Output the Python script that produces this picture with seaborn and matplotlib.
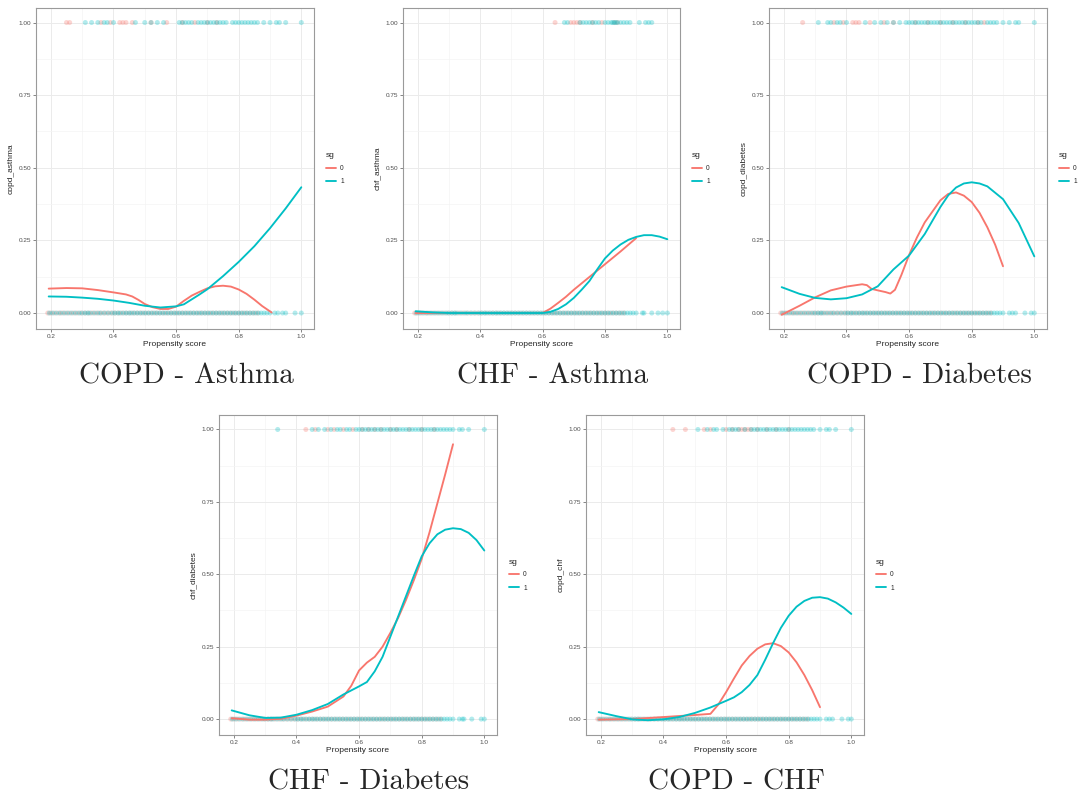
import matplotlib
matplotlib.use("Agg")
import matplotlib.pyplot as plt
import seaborn as sns
import pandas as pd

sns.set_style("white")
plt.rcParams['font.family'] = ['Liberation Sans', 'DejaVu Sans']

pal = {'0': '#F8766D', '1': '#00BFC4'}

# --- points at outcome = 0 (shared dense core + per-panel tails) ---
zero_sg0 = [0.19, 0.20, 0.212, 0.225, 0.236, 0.248, 0.26, 0.272, 0.284, 0.296, 0.308, 0.32,
            0.332, 0.344, 0.356, 0.368, 0.38, 0.392, 0.404, 0.416, 0.428, 0.44, 0.452, 0.464,
            0.476, 0.488, 0.50, 0.512, 0.524, 0.536, 0.548, 0.56, 0.572, 0.584, 0.596, 0.608,
            0.62, 0.632, 0.644, 0.656, 0.668, 0.68, 0.692, 0.704, 0.716, 0.728, 0.74, 0.752,
            0.764, 0.776, 0.788, 0.80, 0.812, 0.824, 0.836, 0.848, 0.86]
zero_sg1 = [0.195, 0.206, 0.218, 0.23, 0.242, 0.254, 0.266, 0.278, 0.29, 0.30, 0.31, 0.318,
            0.326, 0.338, 0.35, 0.36, 0.372, 0.384, 0.396, 0.405, 0.414, 0.422, 0.432, 0.441,
            0.45, 0.458, 0.467, 0.476, 0.485, 0.494, 0.503, 0.512, 0.521, 0.53, 0.539, 0.548,
            0.557, 0.566, 0.575, 0.584, 0.593, 0.602, 0.611, 0.62, 0.629, 0.638, 0.647, 0.656,
            0.665, 0.674, 0.683, 0.692, 0.701, 0.71, 0.719, 0.728, 0.737, 0.746, 0.755, 0.764,
            0.773, 0.782, 0.791, 0.80, 0.809, 0.818, 0.827, 0.836, 0.845, 0.854, 0.863, 0.872,
            0.881, 0.89, 0.90]

# --- COPD - Asthma ---
ca_top0 = [0.25, 0.26, 0.36, 0.39, 0.42, 0.43, 0.44, 0.46, 0.52, 0.57, 0.62, 0.66, 0.70, 0.73]
ca_top1 = [0.31, 0.33, 0.35, 0.37, 0.38, 0.40, 0.47, 0.50, 0.52, 0.54, 0.56, 0.61, 0.62, 0.63,
           0.64, 0.65, 0.67, 0.68, 0.69, 0.70, 0.71, 0.72, 0.73, 0.74, 0.75, 0.76, 0.78, 0.79,
           0.80, 0.81, 0.82, 0.83, 0.84, 0.85, 0.86, 0.88, 0.90, 0.92, 0.93, 0.95, 1.0]
ca_tail1 = [0.915, 0.925, 0.94, 0.95, 0.98, 1.0]
ca_x0 = [0.193, 0.25, 0.30, 0.35, 0.40, 0.44, 0.46, 0.48, 0.50, 0.525, 0.55, 0.575, 0.60,
         0.625, 0.65, 0.675, 0.70, 0.725, 0.75, 0.775, 0.80, 0.825, 0.85, 0.875, 0.905]
ca_y0 = [0.084, 0.086, 0.085, 0.079, 0.071, 0.064, 0.057, 0.045, 0.031, 0.020, 0.014, 0.014,
         0.022, 0.042, 0.060, 0.073, 0.085, 0.092, 0.094, 0.091, 0.081, 0.066, 0.046, 0.024, 0.002]
ca_x1 = [0.193, 0.25, 0.30, 0.35, 0.40, 0.45, 0.50, 0.55, 0.60, 0.625, 0.65, 0.675, 0.70,
         0.75, 0.80, 0.85, 0.90, 0.95, 1.0]
ca_y1 = [0.057, 0.056, 0.053, 0.049, 0.043, 0.035, 0.025, 0.019, 0.023, 0.030, 0.047, 0.064,
         0.082, 0.127, 0.176, 0.230, 0.292, 0.360, 0.433]

# --- CHF - Asthma ---
ha_top0 = [0.64, 0.69, 0.70, 0.71, 0.72, 0.76, 0.79, 0.83, 0.84]
ha_top1 = [0.67, 0.68, 0.72, 0.73, 0.74, 0.75, 0.76, 0.77, 0.78, 0.80, 0.81, 0.82, 0.825,
           0.83, 0.835, 0.84, 0.85, 0.86, 0.87, 0.88, 0.91, 0.93, 0.94, 0.95]
ha_tail1 = [0.92, 0.925, 0.95, 0.97, 0.985, 1.0]
ha_x0 = [0.193, 0.30, 0.40, 0.50, 0.60, 0.625, 0.65, 0.675, 0.70, 0.75, 0.80, 0.85, 0.90]
ha_y0 = [0.0, 0.0, 0.0, 0.0, 0.0, 0.015, 0.035, 0.056, 0.080, 0.124, 0.168, 0.212, 0.258]
ha_x1 = [0.193, 0.25, 0.30, 0.40, 0.50, 0.60, 0.625, 0.65, 0.675, 0.70, 0.725, 0.75, 0.775,
         0.80, 0.825, 0.85, 0.875, 0.90, 0.925, 0.95, 0.975, 1.0]
ha_y1 = [0.006, 0.002, 0.0, 0.0, 0.0, 0.0, 0.004, 0.014, 0.030, 0.052, 0.080, 0.110, 0.150,
         0.188, 0.215, 0.236, 0.252, 0.262, 0.268, 0.268, 0.263, 0.254]

# --- COPD - Diabetes ---
cd_top0 = [0.26, 0.36, 0.39, 0.42, 0.43, 0.44, 0.475, 0.52, 0.55, 0.62, 0.66, 0.70, 0.74,
           0.78, 0.82, 0.84]
cd_top1 = [0.31, 0.34, 0.35, 0.37, 0.38, 0.40, 0.46, 0.49, 0.51, 0.53, 0.55, 0.57, 0.59, 0.60,
           0.61, 0.62, 0.63, 0.64, 0.65, 0.66, 0.67, 0.68, 0.69, 0.70, 0.71, 0.72, 0.73, 0.74,
           0.75, 0.76, 0.77, 0.78, 0.79, 0.80, 0.81, 0.82, 0.83, 0.85, 0.86, 0.87, 0.88, 0.90,
           0.92, 0.94, 0.95, 1.0]
cd_tail1 = [0.92, 0.93, 0.94, 0.97, 0.99, 1.0]
cd_x0 = [0.193, 0.25, 0.30, 0.35, 0.40, 0.45, 0.465, 0.48, 0.50, 0.525, 0.54, 0.555, 0.575,
         0.60, 0.625, 0.65, 0.675, 0.70, 0.725, 0.75, 0.775, 0.80, 0.825, 0.85, 0.875, 0.90]
cd_y0 = [-0.006, 0.025, 0.054, 0.078, 0.091, 0.099, 0.096, 0.083, 0.078, 0.072, 0.067, 0.080,
         0.130, 0.200, 0.260, 0.312, 0.350, 0.388, 0.410, 0.415, 0.404, 0.382, 0.345, 0.295,
         0.235, 0.161]
cd_x1 = [0.193, 0.25, 0.30, 0.35, 0.40, 0.45, 0.50, 0.55, 0.60, 0.65, 0.70, 0.725, 0.75, 0.775,
         0.80, 0.825, 0.85, 0.90, 0.95, 1.0]
cd_y1 = [0.089, 0.066, 0.052, 0.047, 0.051, 0.064, 0.092, 0.150, 0.198, 0.272, 0.365, 0.405,
         0.432, 0.446, 0.450, 0.446, 0.436, 0.392, 0.310, 0.195]

# --- CHF - Diabetes ---
hd_top0 = [0.43, 0.46, 0.50, 0.52, 0.55, 0.58, 0.61, 0.63, 0.65, 0.67, 0.70, 0.72, 0.76,
           0.80, 0.84]
hd_top1 = [0.34, 0.45, 0.47, 0.49, 0.51, 0.53, 0.54, 0.56, 0.57, 0.59, 0.60, 0.61, 0.62, 0.63,
           0.64, 0.65, 0.66, 0.67, 0.68, 0.69, 0.70, 0.71, 0.72, 0.73, 0.74, 0.75, 0.76, 0.77,
           0.78, 0.79, 0.80, 0.81, 0.82, 0.83, 0.84, 0.85, 0.86, 0.87, 0.88, 0.89, 0.90, 0.92,
           0.93, 0.95, 1.0]
hd_tail1 = [0.92, 0.93, 0.935, 0.96, 0.99, 1.0]
hd_x0 = [0.193, 0.25, 0.30, 0.35, 0.40, 0.45, 0.50, 0.55, 0.575, 0.60, 0.625, 0.65, 0.675,
         0.70, 0.725, 0.75, 0.775, 0.80, 0.825, 0.85, 0.875, 0.90]
hd_y0 = [0.003, -0.002, -0.002, 0.001, 0.012, 0.026, 0.043, 0.078, 0.115, 0.168, 0.195, 0.215,
         0.250, 0.298, 0.350, 0.412, 0.480, 0.553, 0.645, 0.745, 0.845, 0.949]
hd_x1 = [0.193, 0.25, 0.30, 0.35, 0.40, 0.45, 0.50, 0.55, 0.60, 0.625, 0.65, 0.675, 0.70,
         0.725, 0.75, 0.775, 0.80, 0.825, 0.85, 0.875, 0.90, 0.925, 0.95, 0.975, 1.0]
hd_y1 = [0.030, 0.013, 0.004, 0.005, 0.015, 0.031, 0.052, 0.085, 0.113, 0.128, 0.165, 0.215,
         0.285, 0.355, 0.425, 0.495, 0.562, 0.607, 0.638, 0.654, 0.659, 0.656, 0.643, 0.618,
         0.582]

# --- COPD - CHF ---
ch_top0 = [0.43, 0.47, 0.53, 0.55, 0.60, 0.62, 0.64, 0.65, 0.66, 0.67, 0.68, 0.70, 0.73,
           0.76, 0.80]
ch_top1 = [0.51, 0.54, 0.56, 0.57, 0.59, 0.61, 0.62, 0.63, 0.64, 0.66, 0.68, 0.69, 0.70, 0.71,
           0.72, 0.73, 0.74, 0.75, 0.76, 0.77, 0.78, 0.79, 0.80, 0.81, 0.82, 0.83, 0.84, 0.85,
           0.86, 0.87, 0.88, 0.90, 0.92, 0.93, 0.95, 1.0]
ch_tail1 = [0.92, 0.93, 0.94, 0.97, 0.99, 1.0]
ch_x0 = [0.193, 0.30, 0.40, 0.50, 0.55, 0.575, 0.60, 0.625, 0.65, 0.675, 0.70, 0.725, 0.75,
         0.775, 0.80, 0.825, 0.85, 0.875, 0.90]
ch_y0 = [-0.002, 0.0, 0.007, 0.014, 0.018, 0.050, 0.093, 0.140, 0.185, 0.218, 0.243, 0.258,
         0.262, 0.252, 0.230, 0.196, 0.152, 0.100, 0.041]
ch_x1 = [0.193, 0.25, 0.30, 0.35, 0.40, 0.45, 0.50, 0.55, 0.60, 0.625, 0.65, 0.675, 0.70,
         0.725, 0.75, 0.775, 0.80, 0.825, 0.85, 0.875, 0.90, 0.925, 0.95, 0.975, 1.0]
ch_y1 = [0.024, 0.010, -0.001, -0.004, -0.001, 0.007, 0.021, 0.040, 0.063, 0.075, 0.093, 0.118,
         0.152, 0.205, 0.262, 0.315, 0.357, 0.388, 0.408, 0.419, 0.421, 0.416, 0.403, 0.385,
         0.363]

panels = [
    ("copd_asthma", "COPD - Asthma", (36, 8, 314, 329),
     ca_top0, ca_top1, ca_tail1, ca_x0, ca_y0, ca_x1, ca_y1),
    ("chf_asthma", "CHF - Asthma", (403, 8, 680, 329),
     ha_top0, ha_top1, ha_tail1, ha_x0, ha_y0, ha_x1, ha_y1),
    ("copd_diabetes", "COPD - Diabetes", (769, 8, 1047, 329),
     cd_top0, cd_top1, cd_tail1, cd_x0, cd_y0, cd_x1, cd_y1),
    ("chf_diabetes", "CHF - Diabetes", (219, 415, 497, 735),
     hd_top0, hd_top1, hd_tail1, hd_x0, hd_y0, hd_x1, hd_y1),
    ("copd_chf", "COPD - CHF", (586, 415, 864, 735),
     ch_top0, ch_top1, ch_tail1, ch_x0, ch_y0, ch_x1, ch_y1),
]

W, H = 1078, 798
fig = plt.figure(figsize=(W / 100, H / 100), dpi=100)

for ylab, caption, (x0, y0, x1, y1), top0, top1, tail1, fx0, fy0, fx1, fy1 in panels:
    ax = fig.add_axes([x0 / W, 1 - y1 / H, (x1 - x0) / W, (y1 - y0) / H])

    pts = pd.DataFrame({
        'ps': top0 + top1 + zero_sg0 + zero_sg1 + tail1,
        'outcome': [1.0] * (len(top0) + len(top1)) + [0.0] * (len(zero_sg0) + len(zero_sg1) + len(tail1)),
        'sg': ['0'] * len(top0) + ['1'] * len(top1) + ['0'] * len(zero_sg0) + ['1'] * (len(zero_sg1) + len(tail1)),
    })
    fit = pd.DataFrame({
        'ps': fx0 + fx1,
        'fit': fy0 + fy1,
        'sg': ['0'] * len(fx0) + ['1'] * len(fx1),
    })

    sns.scatterplot(data=pts, x='ps', y='outcome', hue='sg', palette=pal, alpha=0.3,
                    s=13, linewidth=0, legend=False, ax=ax, zorder=3)
    sns.lineplot(data=fit, x='ps', y='fit', hue='sg', palette=pal, estimator=None,
                 linewidth=1.35, ax=ax, zorder=4)

    ax.set_xlim(0.1525, 1.0405)
    ax.set_ylim(-0.055, 1.05)
    ax.set_xticks([0.2, 0.4, 0.6, 0.8, 1.0])
    ax.set_xticklabels(['0.2', '0.4', '0.6', '0.8', '1.0'])
    ax.set_yticks([0.0, 0.25, 0.5, 0.75, 1.0])
    ax.set_yticklabels(['0.00', '0.25', '0.50', '0.75', '1.00'])
    ax.set_xticks([0.3, 0.5, 0.7, 0.9], minor=True)
    ax.set_yticks([0.125, 0.375, 0.625, 0.875], minor=True)
    ax.grid(which='major', color='#EBEBEB', linewidth=0.7, zorder=0)
    ax.grid(which='minor', color='#F4F4F4', linewidth=0.5, zorder=0)
    ax.set_axisbelow(True)
    ax.tick_params(which='major', length=2, width=0.5, color='#555555', labelsize=4.6,
                   labelcolor='#4D4D4D', pad=1.5, direction='out', bottom=True, left=True)
    ax.tick_params(which='minor', length=0)
    for sp in ax.spines.values():
        sp.set_color('#9A9A9A')
        sp.set_linewidth(0.8)

    ax.set_xlabel('Propensity score', fontsize=6, labelpad=1.5)
    ax.set_ylabel(ylab, fontsize=6, labelpad=3)

    sns.move_legend(ax, 'center left', bbox_to_anchor=(1.02, 0.5), frameon=False,
                    title='sg', fontsize=4.8, title_fontsize=6, handlelength=1.6,
                    handletextpad=0.6, labelspacing=0.9, alignment='left')

    cx = (x0 + x1) / 2 + 11
    cy = 383 if y0 < 100 else 790
    fig.text(cx / W, 1 - cy / H, caption, ha='center', va='baseline', fontsize=21,
             family=['cmr10', 'Liberation Serif'])

fig.savefig('out.png', dpi=100, facecolor='white')
